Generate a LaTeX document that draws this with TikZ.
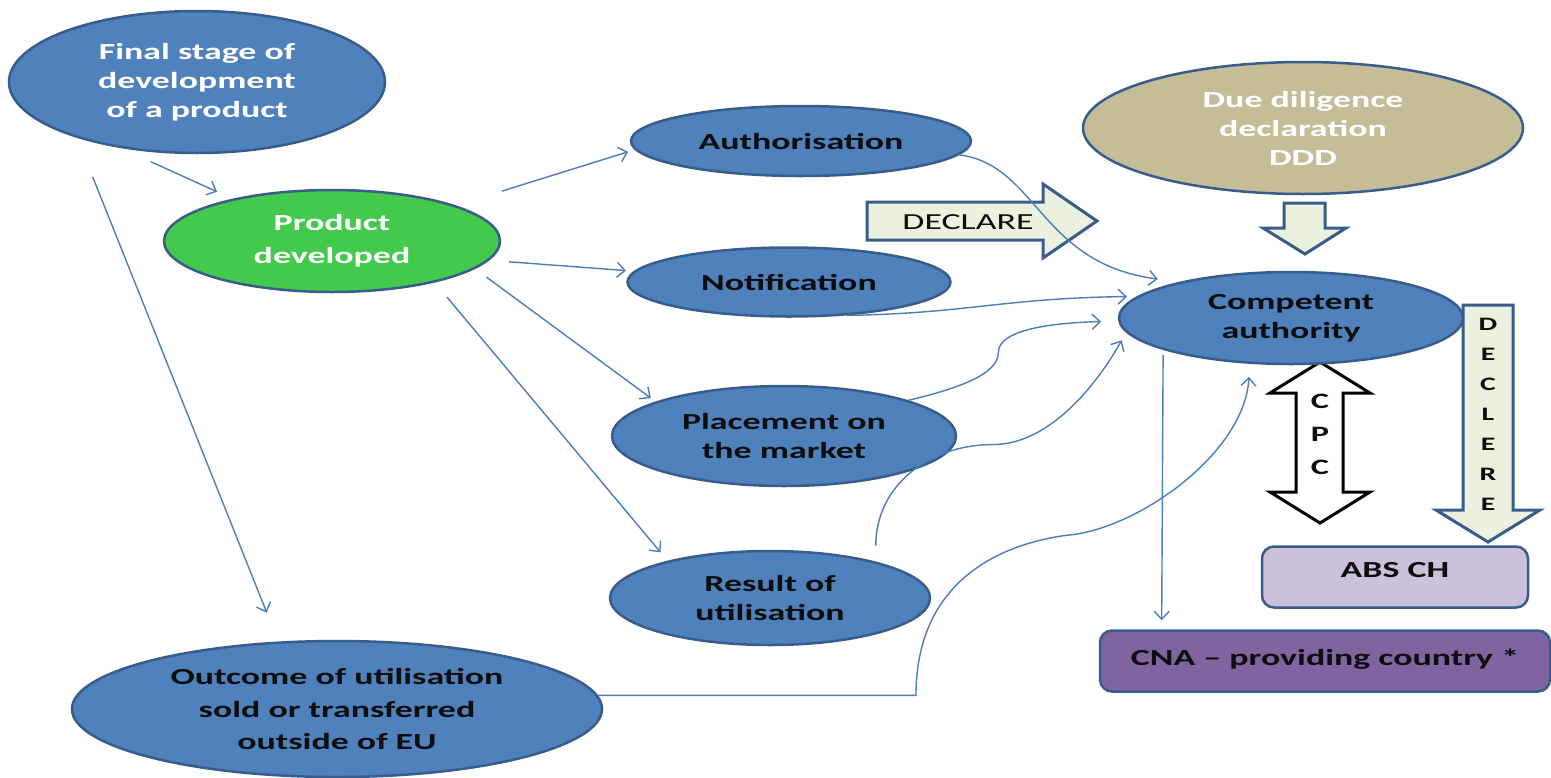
\documentclass[tikz,border=0pt]{standalone}
\usepackage{fontspec}
\setmainfont{Carlito}[FakeStretch=1.56]
\usetikzlibrary{shapes.geometric,arrows.meta}

\definecolor{blobfill}{HTML}{4F81BD}
\definecolor{blobline}{HTML}{385D8A}
\definecolor{devgreen}{HTML}{43C94B}
\definecolor{ddtan}{HTML}{C4BD97}
\definecolor{abslav}{HTML}{CCC1DA}
\definecolor{cnapurple}{HTML}{8064A2}
\definecolor{arrowfill}{HTML}{EBF1DE}
\definecolor{linkblue}{HTML}{4A7EBB}
\definecolor{textdark}{HTML}{0D0D0D}

\begin{document}
\begin{tikzpicture}[x=1pt,y=-1pt,
  blob/.style={ellipse, draw=blobline, line width=2.5pt, fill=blobfill, inner sep=0pt,
    align=center, text=textdark, font=\bfseries\fontsize{23}{29}\selectfont},
  lighttext/.style={text=white},
  panel/.style={rectangle, rounded corners=12pt, draw=blobline, line width=2.5pt,
    inner sep=0pt, align=center, text=textdark, font=\bfseries\fontsize{23}{29}\selectfont},
  link/.style={draw=linkblue, line width=1.4pt,
    -{Straight Barb[length=8pt,width=15pt,line width=1.4pt]}},
  blockarrow/.style={draw=blobline, line width=3pt, fill=arrowfill, line join=miter},
  twoway/.style={draw=black, line width=3pt, fill=white, line join=miter},
  stacked/.style={align=center, text=textdark, inner sep=0pt}
]
\useasboundingbox (0,0) rectangle (1551,777);

% ---- block arrows ----
% DECLARE, pointing right
\draw[blockarrow] (867,202) -- (1043,202) -- (1043,184) -- (1097,221)
  -- (1043,258) -- (1043,240) -- (867,240) -- cycle;
\node[font=\fontsize{23}{28}\selectfont, text=textdark] (declare) at (968,222) {DECLARE};

% from the due diligence declaration down to the authority
\draw[blockarrow] (1284,203) -- (1325,203) -- (1325,228) -- (1346,228)
  -- (1305,254) -- (1263,228) -- (1284,228) -- cycle;

% two-way CPC arrow
\draw[twoway] (1320,362) -- (1370,393) -- (1343,393) -- (1343,492) -- (1370,492)
  -- (1320,523) -- (1270,492) -- (1296,492) -- (1296,393) -- (1270,393) -- cycle;
\node[stacked, font=\bfseries\fontsize{22}{33}\selectfont] (cpc) at (1320,434) {C\\P\\C};

% DECLERE, pointing down to ABS CH
\draw[blockarrow] (1463,305) -- (1513,305) -- (1513,510) -- (1540,510)
  -- (1488,542) -- (1436,510) -- (1463,510) -- cycle;
\node[stacked, font=\bfseries\fontsize{19}{30}\selectfont] (declere) at (1488,414)
  {D\\E\\C\\L\\E\\R\\E};

% ---- nodes ----
\node[blob, lighttext, minimum width=376pt, minimum height=142pt] (final) at (197,82)
  {Final stage of\\development\\of a product};
\node[blob, lighttext, fill=devgreen, minimum width=336pt, minimum height=102pt,
  font=\bfseries\fontsize{23}{33}\selectfont] (dev) at (332,241) {Product\\developed};
\node[blob, minimum width=340pt, minimum height=70pt] (auth) at (801,141) {Authorisation};
\node[blob, minimum width=323pt, minimum height=69pt] (notif) at (789,282) {Notification};
\node[blob, minimum width=344pt, minimum height=100pt] (place) at (784,436)
  {Placement on\\the market};
\node[blob, minimum width=320pt, minimum height=94pt] (result) at (770,598)
  {Result of\\utilisation};
\node[blob, minimum width=530pt, minimum height=136pt,
  font=\bfseries\fontsize{23}{32.5}\selectfont] (outcome) at (337,709)
  {Outcome of utilisation\\sold or transferred\\outside of EU};
\node[blob, lighttext, fill=ddtan, minimum width=440pt, minimum height=132pt] (ddd) at (1303,128)
  {Due diligence\\declaration\\DDD};
\node[blob, minimum width=344pt, minimum height=92pt] (ca) at (1291,318)
  {Competent\\authority};
\node[panel, fill=abslav, minimum width=266pt, minimum height=61pt, text depth=14pt]
  (abs) at (1395,577) {ABS CH};
\node[panel, fill=cnapurple, minimum width=450pt, minimum height=61pt, text depth=8pt]
  (cna) at (1325,661) {CNA -- providing country *};

% ---- connectors ----
\draw[link, shorten <=33pt, shorten >=17pt] (final.221.7) -- (dev.157.2);
\draw[link, shorten <=42pt, shorten >=31pt] (final.205.6) -- (outcome.131.1);
\draw[link, shorten <=48pt, shorten >=7pt] (dev.16.3) -- (auth.183.9);
\draw[link, shorten <=20pt, shorten >=8pt] (dev.353.4) -- (notif.176.6);
\draw[link, shorten <=14pt, shorten >=6pt] (dev.349.5) -- (place.165.2);
\draw[link, shorten <=19pt, shorten >=11pt] (dev.338.1) -- (result.160.5);

\draw[link, shorten >=22pt] (auth.355.3)
  .. controls +(78,10) and +(-140,-18) .. (ca.162.6);
\draw[link, shorten >=10pt] (notif.330.4)
  .. controls +(120,-2) and +(-136,2) .. (ca.172.7);
\draw[link, shorten >=17pt] (place.16)
  .. controls +(50,-12) and +(0,22) .. ++(90,-48)
  .. controls +(0,-22) and +(-70,2) .. (ca.181);
\draw[link, shorten <=16pt, shorten >=9pt] (result.19.3)
  .. controls +(0,-75) and +(-65,0) .. ++(117,-117)
  .. controls +(60,0) and +(-25,45) .. (ca.185.8);
\draw[link, shorten >=13pt] (outcome.3.8) -- ++(318,0)
  .. controls +(0,-110) and +(-72,10) .. ++(150,-160)
  .. controls +(70,-5) and +(-5,90) .. (ca.228.2);
\draw[link, shorten <=5pt, shorten >=9pt] (ca.194.5) -- (cna.169.75);
\end{tikzpicture}
\end{document}
